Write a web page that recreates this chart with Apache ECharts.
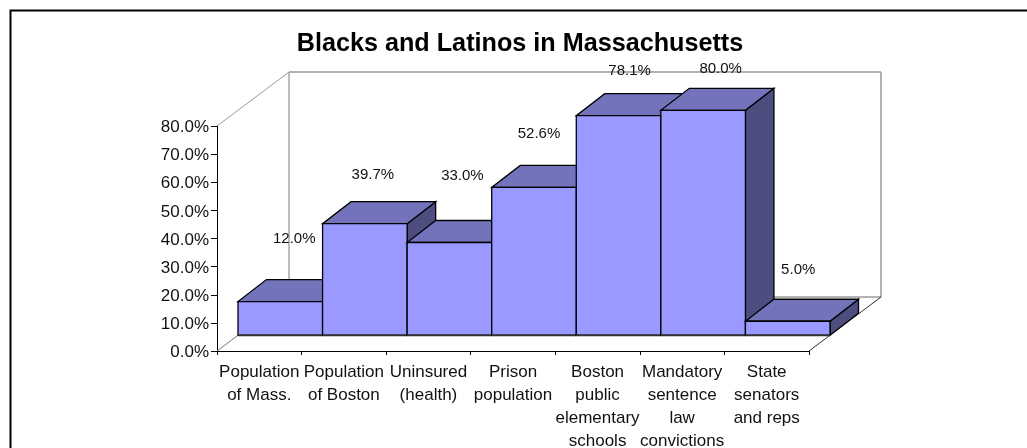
<!DOCTYPE html>
<html>
<head>
<meta charset="utf-8">
<style>html,body{margin:0;padding:0;background:#fff;overflow:hidden}#chart{width:1027px;height:448px}</style>
<script src="https://cdn.jsdelivr.net/npm/echarts@6/dist/echarts.min.js"></script>
</head>
<body>
<div id="chart"></div>
<script>
const categories = ['Population\nof Mass.', 'Population\nof Boston', 'Uninsured\n(health)', 'Prison\npopulation',
  'Boston\npublic\nelementary\nschools', 'Mandatory\nsentence\nlaw\nconvictions', 'State\nsenators\nand reps'];
const percents = [12.0, 39.7, 33.0, 52.6, 78.1, 80.0, 5.0];
const yTicks = [0, 10, 20, 30, 40, 50, 60, 70, 80];

// fake 3d: pixel offsets going back from the front of the floor
const WALL = [72, -54];
const BAR_FRONT = [21, -15.7];
const BAR_DEPTH = [28.5, -22];
// the data labels sit irregularly in the original, nudges from front top centre of each bar
const LABEL_NUDGE = [[14, -63], [8, -49], [13, -67], [5, -54], [11, -44.5], [17.5, -41], [10.5, -51]];

const FONT = '"Liberation Sans", Arial, sans-serif';

function face(points, fill) {
  return { type: 'polygon', shape: { points: points }, style: { fill: fill, stroke: '#000', lineWidth: 1.3 } };
}
function line(a, b, color, width) {
  return { type: 'line', shape: { x1: a[0], y1: a[1], x2: b[0], y2: b[1] }, style: { stroke: color, lineWidth: width } };
}

function renderWalls(params) {
  const c = params.coordSys;
  const fl = [c.x, c.y + c.height], fr = [c.x + c.width, c.y + c.height], tl = [c.x, c.y];
  const bl = [fl[0] + WALL[0], fl[1] + WALL[1]], br = [fr[0] + WALL[0], fr[1] + WALL[1]];
  const ttl = [tl[0] + WALL[0], tl[1] + WALL[1]], ttr = [br[0], ttl[1]];
  return {
    type: 'group',
    children: [
      line(tl, ttl, '#999', 1),
      line(ttl, bl, '#999', 1.3),
      line(ttl, ttr, '#999', 1.5),
      line(ttr, br, '#999', 1.5),
      line(bl, br, '#666', 1),
      line(fl, bl, '#777', 1),
      line(fr, br, '#333', 1)
    ]
  };
}

function renderBar(params, api) {
  const i = api.value(0), v = api.value(1);
  const base = api.coord([i, 0]), top = api.coord([i, v]);
  const w = api.size([1, 0])[0];
  const x0 = base[0] - w / 2 + BAR_FRONT[0], x1 = x0 + w;
  const y0 = base[1] + BAR_FRONT[1], y1 = top[1] + BAR_FRONT[1];
  const dx = BAR_DEPTH[0], dy = BAR_DEPTH[1];
  return {
    type: 'group',
    children: [
      face([[x1, y1], [x1 + dx, y1 + dy], [x1 + dx, y0 + dy], [x1, y0]], '#4d4d80'),
      face([[x0, y1], [x1, y1], [x1 + dx, y1 + dy], [x0 + dx, y1 + dy]], '#7373bb'),
      face([[x0, y0], [x1, y0], [x1, y1], [x0, y1]], '#9999ff'),
      line([x0, y0], [x1, y0], '#333', 2)
    ]
  };
}

function renderLabel(params, api) {
  const i = api.value(0), v = api.value(1);
  const top = api.coord([i, v]);
  return {
    type: 'text',
    style: {
      x: top[0] + BAR_FRONT[0] + LABEL_NUDGE[i][0],
      y: top[1] + BAR_FRONT[1] + LABEL_NUDGE[i][1],
      text: v.toFixed(1) + '%',
      fill: '#111',
      font: '15px ' + FONT,
      align: 'center',
      verticalAlign: 'middle'
    }
  };
}

const barData = percents.map((v, i) => [i, v]);
const chart = echarts.init(document.getElementById('chart'), null, { renderer: 'canvas' });
chart.setOption({
  animation: false,
  backgroundColor: '#fff',
  title: {
    text: 'Blacks and Latinos in Massachusetts',
    left: 515,
    top: 27,
    textAlign: 'center',
    textStyle: { fontFamily: FONT, fontSize: 25.2, fontWeight: 'bold', color: '#000' }
  },
  grid: { left: 217, top: 126, width: 592, height: 225, outerBoundsMode: 'none' },
  xAxis: {
    type: 'category',
    data: categories,
    axisLine: { lineStyle: { color: '#000', width: 1 } },
    axisTick: { show: true, length: 4, lineStyle: { color: '#000' } },
    axisLabel: { interval: 0, margin: 10, color: '#111', fontFamily: FONT, fontSize: 17, lineHeight: 23 },
    splitLine: { show: false }
  },
  yAxis: {
    type: 'value',
    min: yTicks[0],
    max: yTicks[yTicks.length - 1],
    interval: 10,
    axisLine: { show: true, lineStyle: { color: '#000', width: 1 } },
    axisTick: { show: true, length: 6, lineStyle: { color: '#000' } },
    axisLabel: { margin: 8, color: '#111', fontFamily: FONT, fontSize: 17, verticalAlign: 'top', lineHeight: 3, formatter: v => v.toFixed(1) + '%' },
    splitLine: { show: false }
  },
  graphic: [{
    type: 'polyline',
    shape: { points: [[10.5, 460], [10.5, 10.5], [1040, 10.5]] },
    style: { stroke: '#000', lineWidth: 2, fill: 'none' }
  }],
  series: [
    { type: 'custom', coordinateSystem: 'cartesian2d', data: [[0, 0]], renderItem: renderWalls, clip: false, z: 1, silent: true },
    { type: 'custom', coordinateSystem: 'cartesian2d', data: barData, encode: { x: 0, y: 1 }, renderItem: renderBar, clip: false, z: 2 },
    { type: 'custom', coordinateSystem: 'cartesian2d', data: barData, encode: { x: 0, y: 1 }, renderItem: renderLabel, clip: false, z: 3 }
  ]
});
</script>
</body>
</html>
